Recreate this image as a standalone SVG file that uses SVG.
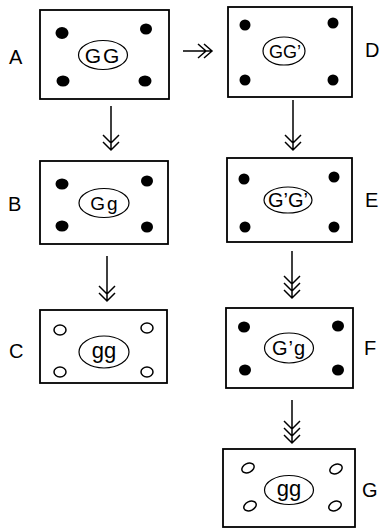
<svg xmlns="http://www.w3.org/2000/svg" width="379" height="529" viewBox="0 0 379 529">
<style>
.box{fill:#fff;stroke:#000;stroke-width:1.8}
.ell{fill:none;stroke:#000;stroke-width:1.2}
.dot{fill:#000}
.odot{fill:none;stroke:#000;stroke-width:1.5}
.lbl{font-family:"Liberation Sans",Arial,sans-serif;font-size:20px;fill:#000}
.gt{font-family:"Liberation Sans",Arial,sans-serif;fill:#000;text-anchor:middle}
.ln{fill:none;stroke:#000;stroke-width:1.5}
</style>
<rect width="379" height="529" fill="#fff"/>
<g id="connectors">
  <path class="ln" d="M183 51 H212 M204 44 L212 51 L204 58 M198 44 L206 51 L198 58"/>
  <path class="ln" d="M111 106 V150 M103 142 L111 150 L119 142 M103 135 L111 143 L119 135"/>
  <path class="ln" d="M293 100 V150 M285 142 L293 150 L301 142 M285 135 L293 143 L301 135"/>
  <path class="ln" d="M107 256 V301 M99 293 L107 301 L115 293 M99 286 L107 294 L115 286"/>
  <path class="ln" d="M292 251 V298 M284 290 L292 298 L300 290 M284 283 L292 291 L300 283 M284 276 L292 284 L300 276"/>
  <path class="ln" d="M292 400 V443 M284 435 L292 443 L300 435 M284 428 L292 436 L300 428 M284 421 L292 429 L300 421"/>
</g>
<g id="A">
  <rect class="box" x="40" y="10" width="129" height="89"/>
  <ellipse class="dot" cx="62" cy="33" rx="6.5" ry="6"/>
  <ellipse class="dot" cx="146" cy="29" rx="6" ry="5.5"/>
  <ellipse class="dot" cx="63" cy="81" rx="6.5" ry="5.5"/>
  <ellipse class="dot" cx="145" cy="81" rx="6.5" ry="5.5"/>
  <ellipse class="ell" cx="103" cy="55" rx="24.5" ry="14.5"/>
  <text class="gt" x="103" y="62.5" font-size="21" letter-spacing="2">GG</text>
  <text class="lbl" x="9" y="64">A</text>
</g>
<g id="D">
  <rect class="box" x="228" y="7" width="124" height="90"/>
  <ellipse class="dot" cx="245" cy="25" rx="5.5" ry="5.5"/>
  <ellipse class="dot" cx="333" cy="23" rx="5.5" ry="5.5"/>
  <ellipse class="dot" cx="245" cy="80" rx="5.5" ry="5.5"/>
  <ellipse class="dot" cx="333" cy="80" rx="5.5" ry="5.5"/>
  <ellipse class="ell" cx="284" cy="51" rx="21" ry="14"/>
  <text class="gt" x="285" y="57.5" font-size="18">GG’</text>
  <text class="lbl" x="365" y="57">D</text>
</g>
<g id="B">
  <rect class="box" x="40" y="161" width="128" height="83"/>
  <ellipse class="dot" cx="62" cy="184" rx="6.5" ry="5.5"/>
  <ellipse class="dot" cx="147" cy="181" rx="6" ry="5.5"/>
  <ellipse class="dot" cx="62" cy="226" rx="6.5" ry="5.5"/>
  <ellipse class="dot" cx="147" cy="227" rx="6" ry="5.5"/>
  <ellipse class="ell" cx="104" cy="203" rx="25" ry="14.5"/>
  <text class="gt" x="105" y="210" font-size="19" letter-spacing="2">Gg</text>
  <text class="lbl" x="8" y="211">B</text>
</g>
<g id="E">
  <rect class="box" x="227" y="158" width="125" height="84"/>
  <ellipse class="dot" cx="244" cy="179" rx="5.5" ry="5.5"/>
  <ellipse class="dot" cx="334" cy="177" rx="5.5" ry="5.5"/>
  <ellipse class="dot" cx="245" cy="227" rx="5.5" ry="5.5"/>
  <ellipse class="dot" cx="334" cy="227" rx="5.5" ry="5.5"/>
  <ellipse class="ell" cx="288" cy="200" rx="24" ry="13"/>
  <text class="gt" x="288" y="207" font-size="20">G’G’</text>
  <text class="lbl" x="365" y="207">E</text>
</g>
<g id="C">
  <rect class="box" x="40" y="310" width="127" height="73"/>
  <ellipse class="odot" cx="60" cy="330" rx="6" ry="5"/>
  <ellipse class="odot" cx="147" cy="328" rx="6" ry="5"/>
  <ellipse class="odot" cx="60" cy="372" rx="6" ry="5"/>
  <ellipse class="odot" cx="147" cy="372" rx="6" ry="5"/>
  <ellipse class="ell" cx="104" cy="352" rx="25" ry="16"/>
  <text class="gt" x="104" y="358" font-size="22">gg</text>
  <text class="lbl" x="9" y="358">C</text>
</g>
<g id="F">
  <rect class="box" x="226" y="308" width="127" height="80"/>
  <ellipse class="dot" cx="244" cy="327" rx="6" ry="5.5"/>
  <ellipse class="dot" cx="338" cy="326" rx="6" ry="5.5"/>
  <ellipse class="dot" cx="245" cy="370" rx="6" ry="5.5"/>
  <ellipse class="dot" cx="338" cy="370" rx="6" ry="5.5"/>
  <ellipse class="ell" cx="289" cy="348" rx="24.5" ry="15"/>
  <text class="gt" x="289" y="355" font-size="20" letter-spacing="1">G’g</text>
  <text class="lbl" x="364" y="355">F</text>
</g>
<g id="G">
  <rect class="box" x="223" y="449" width="132" height="78"/>
  <ellipse class="odot" cx="248" cy="468" rx="6.5" ry="4.5" transform="rotate(-25 248 468)"/>
  <ellipse class="odot" cx="336" cy="469" rx="6.5" ry="4.5" transform="rotate(-25 336 469)"/>
  <ellipse class="odot" cx="250" cy="506" rx="6.5" ry="4.5" transform="rotate(-25 250 506)"/>
  <ellipse class="odot" cx="335" cy="506" rx="6.5" ry="4.5" transform="rotate(-25 335 506)"/>
  <ellipse class="ell" cx="289" cy="490" rx="24.5" ry="14.5"/>
  <text class="gt" x="289" y="496" font-size="22">gg</text>
  <text class="lbl" x="362" y="497">G</text>
</g>
</svg>
